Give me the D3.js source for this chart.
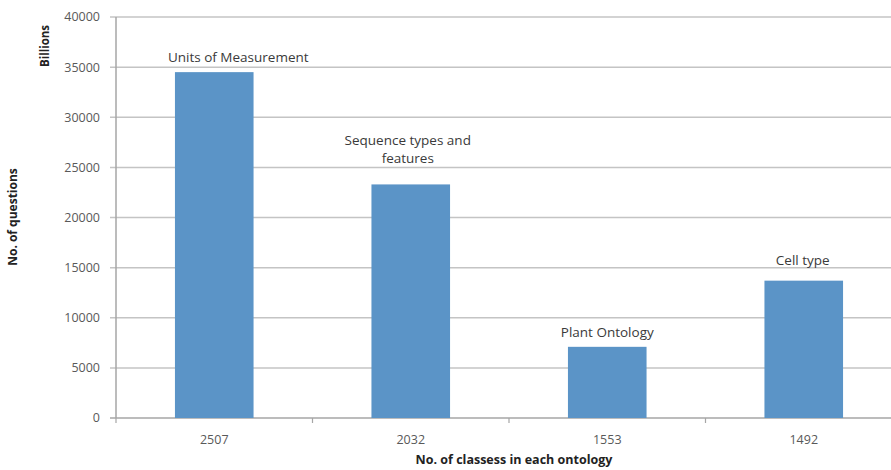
<!DOCTYPE html>
<html>
<head>
<meta charset="utf-8">
<script src="https://cdn.jsdelivr.net/npm/d3@7"></script>
<style>
  body { margin: 0; background: #fff; }
  svg { display: block; font-family: "Open Sans", "DejaVu Sans", sans-serif; }
  .tick-text { fill: #595959; font-size: 12.5px; }
  .bar-label { fill: #3a3a3a; font-size: 13.5px; }
  .axis-title { fill: #222; font-weight: bold; }
</style>
</head>
<body>
<svg width="891" height="470"></svg>
<script>
// data
const categories = ["2507", "2032", "1553", "1492"];
const values = [34500, 23300, 7100, 13700];
const barLabels = [["Units of Measurement"], ["Sequence types and", "features"], ["Plant Ontology"], ["Cell type"]];
const yTicks = [0, 5000, 10000, 15000, 20000, 25000, 30000, 35000, 40000];

const svg = d3.select("svg");
const plotLeft = 116, plotRight = 902;
const plotTop = 17, plotBottom = 418;

let x = d3.scaleBand()
    .domain(categories)
    .range([plotLeft, plotRight])
    .paddingInner(0.6)
    .paddingOuter(0.3);

let y = d3.scaleLinear()
    .domain([0, 40000])
    .range([plotBottom, plotTop]);

// gridlines
svg.append("g")
    .selectAll("line")
    .data(yTicks)
    .enter()
    .append("line")
    .attr("x1", plotLeft - 6)
    .attr("x2", 891)
    .attr("y1", d => y(d))
    .attr("y2", d => y(d))
    .attr("stroke", d => d === 0 ? "#a6a6a6" : "#c4c4c4")
    .attr("stroke-width", 1.5);

// y axis line
svg.append("line")
    .attr("x1", plotLeft).attr("x2", plotLeft)
    .attr("y1", plotTop).attr("y2", plotBottom)
    .attr("stroke", "#a6a6a6")
    .attr("stroke-width", 1.5);

// y tick labels
svg.append("g")
    .selectAll("text")
    .data(yTicks)
    .enter()
    .append("text")
    .attr("class", "tick-text")
    .attr("x", plotLeft - 16)
    .attr("y", d => y(d))
    .attr("dy", "0.35em")
    .attr("text-anchor", "end")
    .text(d => d);

// x category boundary ticks
const step = x.step();
const bounds = d3.range(categories.length + 1).map(i => plotLeft + i * step);
svg.append("g")
    .selectAll("line")
    .data(bounds)
    .enter()
    .append("line")
    .attr("x1", d => d).attr("x2", d => d)
    .attr("y1", plotBottom).attr("y2", plotBottom + 5)
    .attr("stroke", "#a6a6a6")
    .attr("stroke-width", 1.2);

// bars
svg.append("g")
    .selectAll("rect")
    .data(values)
    .enter()
    .append("rect")
    .attr("x", (d, i) => x(categories[i]))
    .attr("y", d => y(d))
    .attr("width", x.bandwidth())
    .attr("height", d => y(0) - y(d))
    .attr("fill", "#5b94c7");

// x tick labels
svg.append("g")
    .selectAll("text")
    .data(categories)
    .enter()
    .append("text")
    .attr("class", "tick-text")
    .attr("x", d => x(d) + x.bandwidth() / 2)
    .attr("y", 440)
    .attr("dy", "0.35em")
    .attr("text-anchor", "middle")
    .text(d => d);

// bar labels (label placement as dragged in the original)
const labelDx = [24, -3, 0, -1];
const labelDy = [-15, -44, -15, -20];
let lbl = svg.append("g")
    .selectAll("text")
    .data(barLabels)
    .enter()
    .append("text")
    .attr("class", "bar-label")
    .attr("text-anchor", "middle")
    .attr("x", (d, i) => x(categories[i]) + x.bandwidth() / 2 + labelDx[i])
    .attr("y", (d, i) => y(values[i]) + labelDy[i]);
lbl.selectAll("tspan")
    .data(d => d)
    .enter()
    .append("tspan")
    .attr("x", function() { return d3.select(this.parentNode).attr("x"); })
    .attr("dy", (d, j) => j === 0 ? "0.35em" : 18)
    .text(d => d);

// axis titles
svg.append("text")
    .attr("class", "axis-title")
    .attr("font-size", "12px")
    .attr("transform", "translate(13,217) rotate(-90)")
    .attr("dy", "0.35em")
    .attr("text-anchor", "middle")
    .text("No. of questions");

svg.append("text")
    .attr("class", "axis-title")
    .attr("font-size", "11.5px")
    .attr("transform", "translate(45,46) rotate(-90)")
    .attr("dy", "0.35em")
    .attr("text-anchor", "middle")
    .text("Billions");

svg.append("text")
    .attr("class", "axis-title")
    .attr("font-size", "12.5px")
    .attr("x", 514)
    .attr("y", 460)
    .attr("dy", "0.35em")
    .attr("text-anchor", "middle")
    .text("No. of classess in each ontology");
</script>
</body>
</html>
